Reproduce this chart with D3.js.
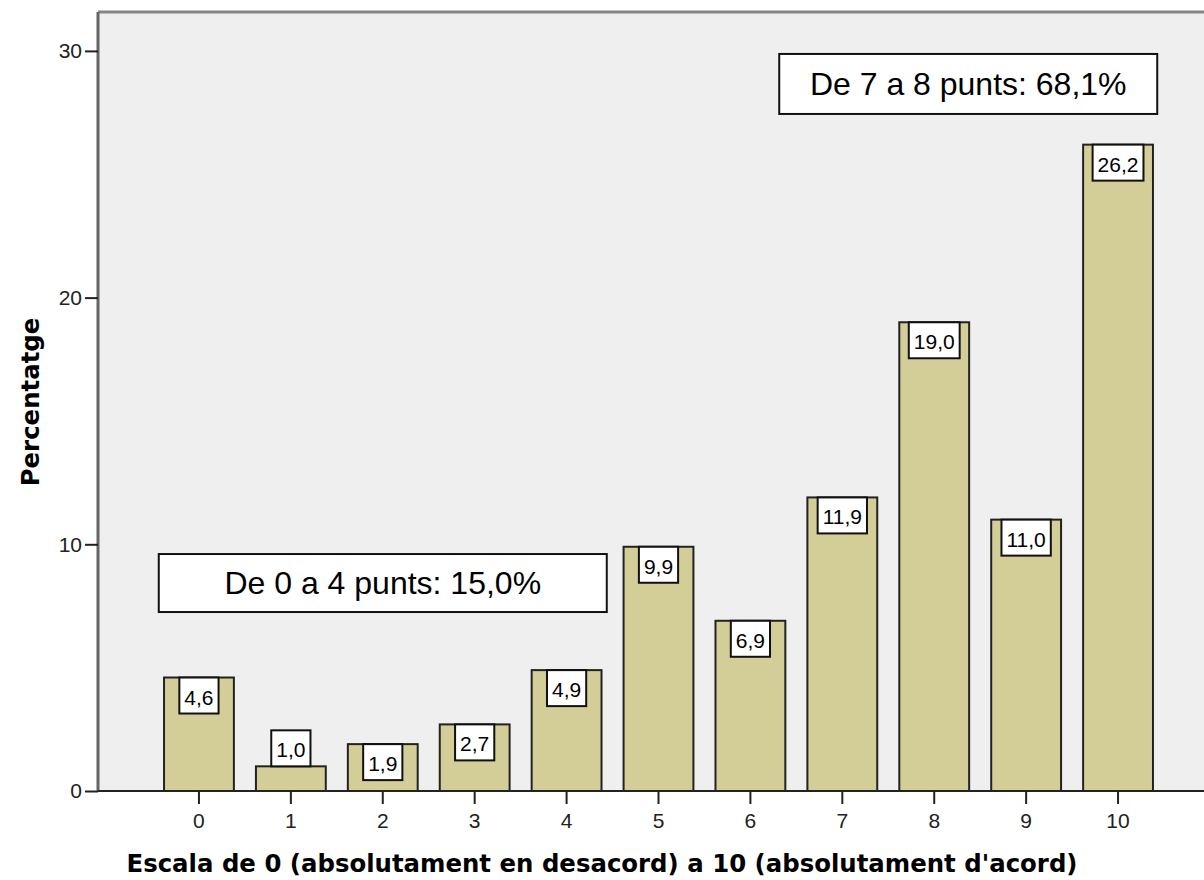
<!DOCTYPE html>
<html lang="ca">
<head>
<meta charset="UTF-8">
<title>Percentatge</title>
<script src="https://cdn.jsdelivr.net/npm/d3@7"></script>
<style>
    html, body { margin: 0; padding: 0; background: #fff; }
    svg { display: block; }
</style>
</head>
<body>
<script>
// categories de l'escala i percentatges
const categories = ["0", "1", "2", "3", "4", "5", "6", "7", "8", "9", "10"]
const values = [4.6, 1.0, 1.9, 2.7, 4.9, 9.9, 6.9, 11.9, 19.0, 11.0, 26.2]
const yTicks = [0, 10, 20, 30]
// caixes de text: posicio en unitats de dades (index de categoria, percentatge)
const notes = [
    { text: "De 0 a 4 punts: 15,0%", at: 2, val: 8.43, w: 448, h: 58 },
    { text: "De 7 a 8 punts: 68,1%", at: 8.37, val: 28.66, w: 378, h: 60 }
]
const xTitle = "Escala de 0 (absolutament en desacord) a 10 (absolutament d'acord)"
const yTitle = "Percentatge"

const W = 1204, H = 880
const plot = { left: 98, top: 12, right: 1215, bottom: 791 }

const svg = d3.select("body").append("svg")
    .attr("width", W)
    .attr("height", H)

const x = d3.scaleBand()
    .domain(categories)
    .range([153, 1164])
    .paddingInner(0.24)
    .paddingOuter(0.12)

const y = d3.scaleLinear()
    .domain([0, 30])
    .range([plot.bottom, plot.bottom - 30 * 24.67])

// fons del grafic
svg.append("rect")
    .attr("x", plot.left)
    .attr("y", plot.top)
    .attr("width", plot.right - plot.left)
    .attr("height", plot.bottom - plot.top)
    .attr("fill", "#efefef")

// vora superior
svg.append("line")
    .attr("x1", plot.left).attr("x2", plot.right)
    .attr("y1", plot.top).attr("y2", plot.top)
    .attr("stroke", "#858585")
    .attr("stroke-width", 3)

// barres
svg.append("g").selectAll("rect")
    .data(values)
    .join("rect")
    .attr("x", (d, i) => x(categories[i]))
    .attr("y", d => y(d))
    .attr("width", x.bandwidth())
    .attr("height", d => y(0) - y(d))
    .attr("fill", "#d3ce97")
    .attr("stroke", "#222")
    .attr("stroke-width", 2)

// etiquetes de valor
const boxH = 36
const fmt = d => d.toFixed(1).replace(".", ",")
const lab = svg.append("g").selectAll("g")
    .data(values)
    .join("g")
    .attr("transform", (d, i) => {
        const cx = x(categories[i]) + x.bandwidth() / 2
        const top = (y(0) - y(d)) >= boxH ? y(d) : y(d) - boxH
        return `translate(${cx},${top})`
    })

lab.append("text")
    .attr("y", 27)
    .attr("text-anchor", "middle")
    .attr("font-family", "Liberation Sans, Arial, sans-serif")
    .attr("font-size", 21)
    .attr("fill", "#000")
    .text(fmt)

lab.each(function () {
    const g = d3.select(this)
    const tw = g.select("text").node().getComputedTextLength()
    g.insert("rect", "text")
        .attr("x", -tw / 2 - 5)
        .attr("y", 0)
        .attr("width", tw + 10)
        .attr("height", boxH)
        .attr("fill", "#fff")
        .attr("stroke", "#111")
        .attr("stroke-width", 2)
})

// eix y
const yAxis = svg.append("g")
    .attr("transform", `translate(${plot.left},0)`)
    .call(d3.axisLeft(y).tickValues(yTicks).tickSize(13).tickPadding(3).tickFormat(d3.format("d")))
yAxis.select(".domain")
    .attr("d", `M0,${plot.top}V${plot.bottom}`)
    .attr("stroke", "#666")
    .attr("stroke-width", 3)
yAxis.selectAll(".tick line").attr("stroke", "#222").attr("stroke-width", 2)
yAxis.selectAll(".tick text")
    .attr("font-family", "Liberation Sans, Arial, sans-serif")
    .attr("font-size", 21)
    .attr("fill", "#222")

// eix x
const xAxis = svg.append("g")
    .attr("transform", `translate(0,${plot.bottom})`)
    .call(d3.axisBottom(x).tickSize(13).tickPadding(9))
xAxis.select(".domain")
    .attr("d", `M${plot.left},0H${plot.right}`)
    .attr("stroke", "#222")
    .attr("stroke-width", 2)
xAxis.selectAll(".tick line").attr("stroke", "#222").attr("stroke-width", 2)
xAxis.selectAll(".tick text")
    .attr("font-family", "Liberation Sans, Arial, sans-serif")
    .attr("font-size", 21)
    .attr("fill", "#222")

// titols dels eixos
svg.append("text")
    .attr("x", 602)
    .attr("y", 872)
    .attr("text-anchor", "middle")
    .attr("font-family", "DejaVu Sans, Verdana, sans-serif")
    .attr("font-weight", "bold")
    .attr("font-size", 24.4)
    .attr("fill", "#000")
    .text(xTitle)

svg.append("text")
    .attr("transform", "translate(39,402) rotate(-90)")
    .attr("text-anchor", "middle")
    .attr("font-family", "DejaVu Sans, Verdana, sans-serif")
    .attr("font-weight", "bold")
    .attr("font-size", 24.4)
    .attr("fill", "#000")
    .text(yTitle)

// caixes de resum
const step = x.step()
const x0 = x(categories[0]) + x.bandwidth() / 2
const nb = svg.append("g").selectAll("g")
    .data(notes)
    .join("g")
    .attr("transform", d => `translate(${x0 + d.at * step},${y(d.val)})`)
nb.append("rect")
    .attr("x", d => -d.w / 2)
    .attr("y", d => -d.h / 2)
    .attr("width", d => d.w)
    .attr("height", d => d.h)
    .attr("fill", "#fff")
    .attr("stroke", "#111")
    .attr("stroke-width", 2)
nb.append("text")
    .attr("y", 11)
    .attr("text-anchor", "middle")
    .attr("font-family", "Liberation Sans, Arial, sans-serif")
    .attr("font-size", 32)
    .attr("fill", "#000")
    .text(d => d.text)
</script>
</body>
</html>
